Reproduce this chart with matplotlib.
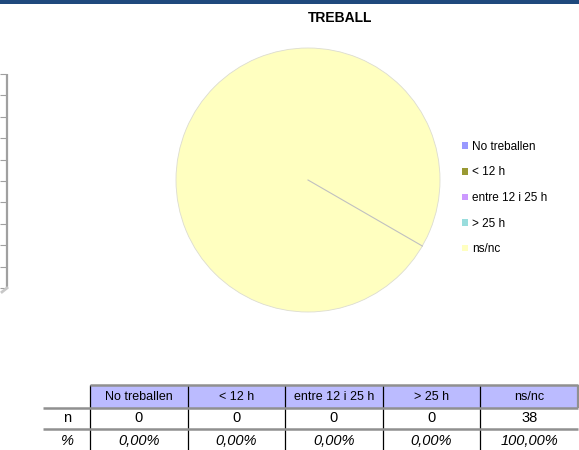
import numpy as np
import matplotlib
matplotlib.use('Agg')
import matplotlib.pyplot as plt
from matplotlib.patches import Rectangle

plt.rcParams['font.family'] = ['Liberation Sans', 'DejaVu Sans']

# data
title = 'TREBALL'
categories = ['No treballen', '< 12 h', 'entre 12 i 25 h', '> 25 h', 'ns/nc']
counts = [0, 0, 0, 0, 38]
pcts = ['0,00%', '0,00%', '0,00%', '0,00%', '100,00%']
colors = ['#9999FF', '#999933', '#CC99FF', '#99DDDD', '#FFFFC0']
start_angle = -30

W, H = 579, 450
fig = plt.figure(figsize=(W / 100, H / 100), dpi=100)


def px_axes(x0, y0, x1, y1):
    # axes from pixel box (top-left origin)
    return fig.add_axes([x0 / W, 1 - y1 / H, (x1 - x0) / W, (y1 - y0) / H])


# top blue bar
bar = px_axes(0, 0, W, 4)
bar.set_facecolor('#1F497D')
bar.set_xticks([])
bar.set_yticks([])
for s in bar.spines.values():
    s.set_visible(False)

# fragment of the neighbouring table on the left
frag = px_axes(0, 0, W, H)
frag.set_xlim(0, W)
frag.set_ylim(H, 0)
frag.axis('off')
n_frag_rows = 10
row_y = 74 + 21.4 * np.arange(n_frag_rows + 1)
frag.hlines(row_y, 0, 7, color='#a0a0a0', lw=0.8)
frag.vlines(7, row_y[0], row_y[-1], color='#a0a0a0', lw=1.6)
frag.plot([2, 7], [row_y[-1] + 4, row_y[-1]], color='#c8c8c8', lw=2)

# title
fig.text(340 / W, 1 - 18 / H, title, ha='center', va='center',
         fontsize=10, fontweight='bold')

# pie
cx, cy, r = 308, 180, 132
ax = px_axes(cx - r, cy - r, cx + r, cy + r)
wedges, _ = ax.pie(counts, colors=colors, startangle=start_angle, counterclock=False,
                   radius=1, wedgeprops=dict(edgecolor='#dcdcd0', linewidth=0.6))
# slice boundaries
bounds = start_angle - 360 * np.cumsum([0] + counts) / sum(counts)
for a in np.unique(np.round(bounds % 360, 6)):
    t = np.deg2rad(a)
    ax.plot([0, np.cos(t)], [0, np.sin(t)], color='#c0c0c0', lw=0.8)
ax.set_xlim(-1, 1)
ax.set_ylim(-1, 1)
ax.set_aspect('equal')

leg = fig.legend(wedges, categories, loc='upper left',
                 bbox_to_anchor=(456 / W, 1 - 135 / H), frameon=False,
                 fontsize=8.5, handlelength=0.5, handleheight=0.5,
                 handletextpad=0.35, labelspacing=1.15, borderpad=0)
for h in leg.legend_handles:
    h.set_edgecolor('none')

# data table below the chart
tx0, tx1 = 43, 578
col0 = 90
cw = (tx1 - col0) / len(categories)
ry = [385, 408, 429, 455]
tab = px_axes(0, 0, W, H)
tab.set_xlim(0, W)
tab.set_ylim(H, 0)
tab.axis('off')
tab.add_patch(Rectangle((col0, ry[0]), tx1 - col0, ry[1] - ry[0],
                        facecolor='#BBBBFF', edgecolor='none'))
xs = col0 + cw * np.arange(len(categories) + 1)
tab.vlines(xs[:-1], ry[0], ry[3], color='black', lw=0.9)
tab.vlines(xs[-1], ry[0], ry[1], color='#909090', lw=1.6)
tab.hlines(ry[0], col0, tx1, color='#909090', lw=1.8)
tab.hlines(ry[1:3], tx0, tx1, color='#909090', lw=1.8)
for i, (cat, n, p) in enumerate(zip(categories, counts, pcts)):
    xc = col0 + cw * (i + 0.5)
    tab.text(xc, (ry[0] + ry[1]) / 2, cat, ha='center', va='center', fontsize=9)
    tab.text(xc, (ry[1] + ry[2]) / 2, str(n), ha='center', va='center', fontsize=10.5)
    tab.text(xc, 441, p, ha='center', va='center', fontsize=10.5, style='italic')
tab.text(67, (ry[1] + ry[2]) / 2, 'n', ha='center', va='center', fontsize=10.5)
tab.text(67, 441, '%', ha='center', va='center', fontsize=10.5, style='italic')

fig.savefig('out.png', dpi=100)
